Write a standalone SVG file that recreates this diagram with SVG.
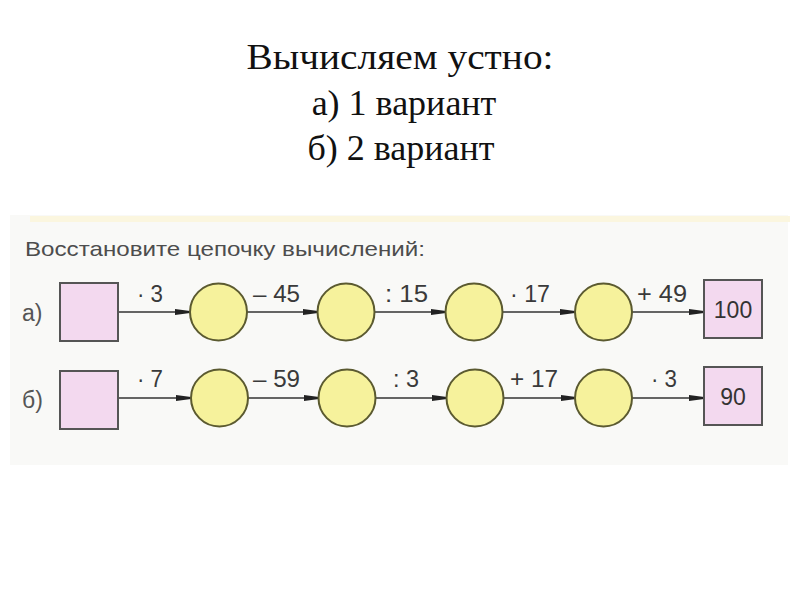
<svg xmlns="http://www.w3.org/2000/svg" width="800" height="600" viewBox="0 0 800 600">
<style>
.hdr{font-family:"Liberation Sans Narrow","Liberation Serif","Times New Roman",serif;font-size:36px;fill:#111;text-anchor:middle}
.hdr{font-family:"Liberation Serif","Times New Roman",serif}
.ttl{font-family:"Liberation Sans",Arial,sans-serif;font-size:21px;fill:#4d4d4d}
.lbl{font-family:"Liberation Sans",Arial,sans-serif;font-size:23px;fill:#3a3a3a}
.row{font-family:"Liberation Sans",Arial,sans-serif;font-size:23px;fill:#555}
.val{font-family:"Liberation Sans",Arial,sans-serif;font-size:23px;fill:#333;text-anchor:middle}
.sq{fill:#f3d9ef;stroke:#555;stroke-width:2}
.cir{fill:#f6f29c;stroke:#5b5a30;stroke-width:2}
.ln{stroke:#333;stroke-width:1.6;fill:none;marker-end:url(#ah)}
</style>
<defs>
<marker id="ah" viewBox="0 0 15 8" refX="15" refY="4" markerWidth="15" markerHeight="8" markerUnits="userSpaceOnUse" orient="auto">
<path d="M0,1 L15,3 L15,5 L0,7 Z" fill="#222"/>
</marker>
</defs>
<rect width="800" height="600" fill="#fff"/>
<rect x="10" y="215" width="778" height="250" fill="#f9f9f7"/>
<rect x="30" y="216" width="760" height="6" fill="#fbf6df"/>

<g id="header">
<text class="hdr" x="400" y="69" textLength="307" lengthAdjust="spacingAndGlyphs">Вычисляем устно:</text>
<text class="hdr" x="404" y="115">а) 1 вариант</text>
<text class="hdr" x="401" y="160">б) 2 вариант</text>
</g>
<text class="ttl" x="25" y="256" textLength="400" lengthAdjust="spacingAndGlyphs">Восстановите цепочку вычислений:</text>

<g id="connectors">
<line class="ln" x1="118" y1="312" x2="190" y2="312"/>
<line class="ln" x1="247" y1="312" x2="318" y2="312"/>
<line class="ln" x1="374" y1="312" x2="446" y2="312"/>
<line class="ln" x1="502" y1="312" x2="575" y2="312"/>
<line class="ln" x1="632" y1="312" x2="704" y2="312"/>
<line class="ln" x1="118" y1="398" x2="191" y2="398"/>
<line class="ln" x1="248" y1="398" x2="319" y2="398"/>
<line class="ln" x1="375" y1="398" x2="447" y2="398"/>
<line class="ln" x1="503" y1="398" x2="576" y2="398"/>
<line class="ln" x1="632" y1="398" x2="704" y2="398"/>
<text class="lbl" x="137" y="302" textLength="26" lengthAdjust="spacingAndGlyphs">· 3</text>
<text class="lbl" x="253" y="302" textLength="47" lengthAdjust="spacingAndGlyphs">– 45</text>
<text class="lbl" x="385" y="302" textLength="43" lengthAdjust="spacingAndGlyphs">: 15</text>
<text class="lbl" x="510" y="302" textLength="40" lengthAdjust="spacingAndGlyphs">· 17</text>
<text class="lbl" x="637" y="302" textLength="50" lengthAdjust="spacingAndGlyphs">+ 49</text>
<text class="lbl" x="137" y="387" textLength="26" lengthAdjust="spacingAndGlyphs">· 7</text>
<text class="lbl" x="253" y="387" textLength="47" lengthAdjust="spacingAndGlyphs">– 59</text>
<text class="lbl" x="393" y="387" textLength="26" lengthAdjust="spacingAndGlyphs">: 3</text>
<text class="lbl" x="510" y="387" textLength="48" lengthAdjust="spacingAndGlyphs">+ 17</text>
<text class="lbl" x="651" y="387" textLength="26" lengthAdjust="spacingAndGlyphs">· 3</text>
</g>

<text class="row" x="22" y="321">а)</text>
<text class="row" x="22" y="408">б)</text>

<g id="a0"><rect class="sq" x="60" y="283" width="58" height="58"/></g>
<g id="a1"><circle class="cir" cx="218.5" cy="312" r="28.5"/></g>
<g id="a2"><circle class="cir" cx="346" cy="312" r="28.5"/></g>
<g id="a3"><circle class="cir" cx="474" cy="312" r="28.5"/></g>
<g id="a4"><circle class="cir" cx="603.5" cy="312" r="28.5"/></g>
<g id="a5"><rect class="sq" x="704" y="280" width="58" height="58"/><text class="val" x="733" y="318">100</text></g>

<g id="b0"><rect class="sq" x="60" y="371" width="58" height="58"/></g>
<g id="b1"><circle class="cir" cx="219.5" cy="398" r="28.5"/></g>
<g id="b2"><circle class="cir" cx="347" cy="398" r="28.5"/></g>
<g id="b3"><circle class="cir" cx="475" cy="398" r="28.5"/></g>
<g id="b4"><circle class="cir" cx="603.5" cy="398" r="28.5"/></g>
<g id="b5"><rect class="sq" x="704" y="367" width="58" height="58"/><text class="val" x="733" y="405">90</text></g>
</svg>
